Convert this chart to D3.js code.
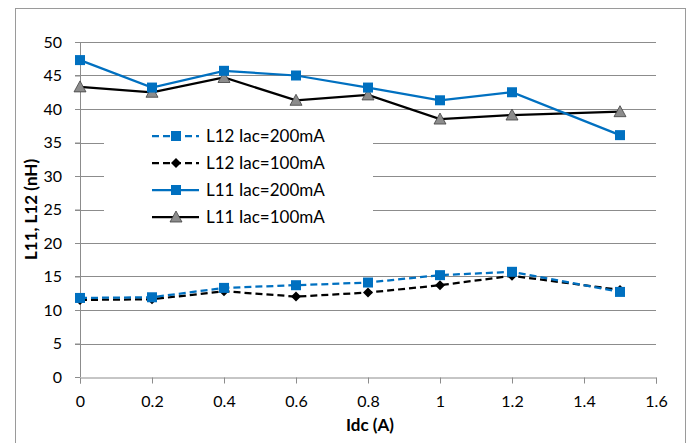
<!DOCTYPE html>
<html>
<head>
<meta charset="UTF-8" />
<script src="https://d3js.org/d3.v7.min.js"></script>
<style>
  body { margin: 0; background: #fff; }
  text { font-family: Lato, "Open Sans", sans-serif; }
</style>
</head>
<body>
<div id="chart"></div>
<script>
// data
var idc = [0, 0.2, 0.4, 0.6, 0.8, 1.0, 1.2, 1.5];
var l12_200 = [11.8, 11.9, 13.3, 13.7, 14.1, 15.2, 15.7, 12.7];
var l12_100 = [11.5, 11.6, 12.8, 12.0, 12.6, 13.7, 15.1, 13.0];
var l11_200 = [47.3, 43.2, 45.7, 45.0, 43.2, 41.3, 42.5, 36.1];
var l11_100 = [43.3, 42.5, 44.7, 41.3, 42.1, 38.5, 39.1, 39.6];
var xTicks = [0, 0.2, 0.4, 0.6, 0.8, 1, 1.2, 1.4, 1.6];
var yTicks = [0, 5, 10, 15, 20, 25, 30, 35, 40, 45, 50];

var W = 688, H = 443;
var margin = { top: 42, right: 32, bottom: 66, left: 80 },
  width = W - margin.left - margin.right,
  height = H - margin.top - margin.bottom;

var root = d3.select("#chart").append("svg")
  .attr("width", W).attr("height", H);

// outer chart frame
root.append("rect")
  .attr("x", 15.5).attr("y", 8.5)
  .attr("width", 670).attr("height", 450)
  .attr("fill", "none").attr("stroke", "#9a9a9a");

var svg = root.append("g")
  .attr("transform", "translate(" + margin.left + "," + margin.top + ")");

var x = d3.scaleLinear().domain([0, 1.6]).range([0, width]);
var y = d3.scaleLinear().domain([0, 50]).range([height, 0]);

// gridlines
svg.append("g")
  .selectAll("line")
  .data(yTicks.filter(function(d) { return d > 0; }))
  .enter().append("line")
  .attr("x1", -5).attr("x2", width)
  .attr("y1", function(d) { return Math.round(y(d)) + 0.5; })
  .attr("y2", function(d) { return Math.round(y(d)) + 0.5; })
  .attr("stroke", "#8c8c8c").attr("stroke-width", 1);

// y axis
var yAxis = svg.append("g")
  .call(d3.axisLeft(y).tickValues(yTicks).tickSize(5).tickPadding(13));
yAxis.select(".domain").attr("stroke", "#8c8c8c").attr("d", "M0.5," + height + "V0");
yAxis.selectAll(".tick line").attr("stroke", "#8c8c8c");
yAxis.selectAll("text").style("font-size", "16px").attr("fill", "#000");

// x axis
var xAxis = svg.append("g")
  .attr("transform", "translate(0," + (Math.round(height) + 0.5) + ")")
  .call(d3.axisBottom(x).tickValues(xTicks).tickFormat(d3.format("")).tickSize(6).tickPadding(12));
xAxis.select(".domain").attr("stroke", "#8c8c8c");
xAxis.selectAll(".tick line").attr("stroke", "#8c8c8c");
xAxis.selectAll("text").style("font-size", "16px").attr("fill", "#000");

// titles
svg.append("text")
  .attr("x", 290).attr("y", height + 54)
  .attr("text-anchor", "middle")
  .style("font-size", "17px").style("font-weight", "bold")
  .text("Idc (A)");

svg.append("text")
  .attr("text-anchor", "middle")
  .attr("transform", "translate(-43," + (height / 2) + ")rotate(-90)")
  .style("font-size", "17px").style("font-weight", "bold")
  .text("L11, L12 (nH)");

var blue = "#0070c0";
var series = [
  { name: "L12 Iac=200mA", vals: l12_200, color: blue, dash: "7,4", marker: "square" },
  { name: "L12 Iac=100mA", vals: l12_100, color: "#000", dash: "7,4", marker: "diamond" },
  { name: "L11 Iac=200mA", vals: l11_200, color: blue, dash: null, marker: "square" },
  { name: "L11 Iac=100mA", vals: l11_100, color: "#000", dash: null, marker: "triangle" }
];

function drawMarker(g, type, cx, cy) {
  if (type == "square") {
    g.append("rect")
      .attr("x", cx - 5).attr("y", cy - 5)
      .attr("width", 10).attr("height", 10)
      .attr("fill", blue);
  } else if (type == "diamond") {
    g.append("path")
      .attr("d", "M" + cx + "," + (cy - 5) + "L" + (cx + 5) + "," + cy + "L" + cx + "," + (cy + 5) + "L" + (cx - 5) + "," + cy + "Z")
      .attr("fill", "#000");
  } else {
    g.append("path")
      .attr("d", "M" + cx + "," + (cy - 6) + "L" + (cx + 6) + "," + (cy + 5) + "L" + (cx - 6) + "," + (cy + 5) + "Z")
      .attr("fill", "#8c8c8c").attr("stroke", "#404040").attr("stroke-width", 0.8);
  }
}

var line = d3.line()
  .x(function(d) { return x(d[0]); })
  .y(function(d) { return y(d[1]); });

// draw in reverse order so L12 200mA is on top like the original
series.slice().reverse().forEach(function(s) {
  var pts = idc.map(function(v, i) { return [v, s.vals[i]]; });
  var g = svg.append("g");
  g.append("path")
    .datum(pts)
    .attr("d", line)
    .attr("fill", "none")
    .attr("stroke", s.color)
    .attr("stroke-width", 2.25)
    .attr("stroke-dasharray", s.dash);
  pts.forEach(function(p) { drawMarker(g, s.marker, x(p[0]), y(p[1])); });
});

// legend
var lg = root.append("g").attr("transform", "translate(104,118)");
lg.append("rect").attr("width", 269).attr("height", 114).attr("fill", "#fff");
series.forEach(function(s, i) {
  var ly = 18 + i * 27;
  lg.append("line")
    .attr("x1", 48).attr("x2", 95)
    .attr("y1", ly).attr("y2", ly)
    .attr("stroke", s.color).attr("stroke-width", 2.25)
    .attr("stroke-dasharray", s.dash);
  drawMarker(lg, s.marker, 72, ly);
  lg.append("text")
    .attr("x", 102).attr("y", ly)
    .attr("dy", "0.35em")
    .style("font-size", "17px")
    .text(s.name);
});
</script>
</body>
</html>
